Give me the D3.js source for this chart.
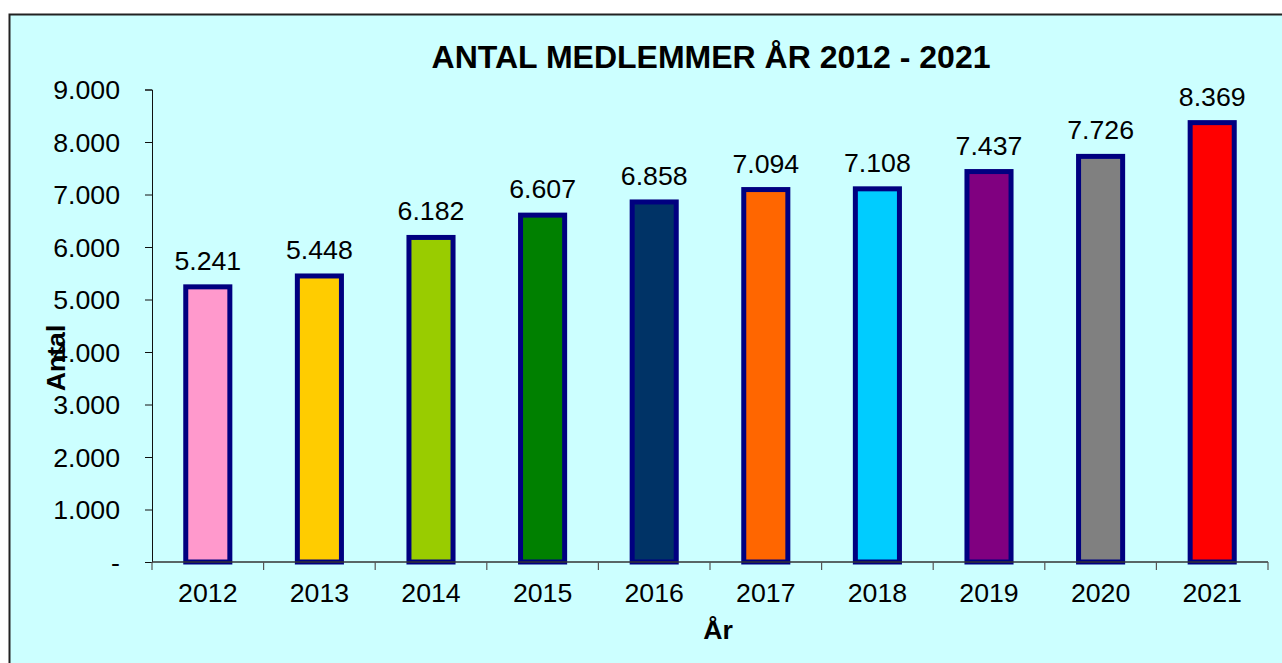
<!DOCTYPE html>
<html lang="da">
<head>
  <meta charset="UTF-8">
  <title>Antal medlemmer år 2012 - 2021</title>
  <script src="https://d3js.org/d3.v7.min.js"></script>
  <style>
    body { margin: 0; background: #fff; }
    svg { display: block; font-family: "Liberation Sans", Arial, sans-serif; }
  </style>
</head>
<body>
  <svg id="chart"></svg>
  <script>
    const years = ["2012", "2013", "2014", "2015", "2016", "2017", "2018", "2019", "2020", "2021"];
    const members = [5241, 5448, 6182, 6607, 6858, 7094, 7108, 7437, 7726, 8369];
    const barColors = ["#FF99CC", "#FFCC00", "#99CC00", "#008000", "#003366",
                       "#FF6600", "#00CCFF", "#800080", "#808080", "#FF0000"];
    const yTicks = [0, 1000, 2000, 3000, 4000, 5000, 6000, 7000, 8000, 9000];

    const width = 1282, height = 663;
    const plotLeft = 152, plotRight = 1268, plotTop = 89.5, plotBottom = 562;
    const fs = 26.7; // label font size

    const svg = d3.select("#chart").attr("width", width).attr("height", height);

    // chart frame
    svg.append("rect")
      .attr("x", 9.5).attr("y", 14.5)
      .attr("width", width).attr("height", height)
      .attr("fill", "#CCFFFF")
      .attr("stroke", "#222").attr("stroke-width", 2);

    const da = d3.formatLocale({ decimal: ",", thousands: ".", grouping: [3], currency: ["", " kr"] });
    const fmt = v => v === 0 ? "-" : da.format(",")(v);

    const x = d3.scaleBand().domain(years).range([plotLeft, plotRight])
      .paddingInner(0.605).paddingOuter(0.3025);
    const y = d3.scaleLinear().domain([0, 9000]).range([plotBottom, plotTop]);

    // y axis
    const yAxis = svg.append("g")
      .attr("transform", `translate(${plotLeft},0)`)
      .call(d3.axisLeft(y).tickValues(yTicks).tickFormat(fmt).tickSizeOuter(0).tickSize(7).tickPadding(25));
    yAxis.select(".domain").attr("stroke", "#111");
    yAxis.selectAll(".tick line").attr("stroke", "#111");
    yAxis.selectAll("text").attr("font-size", fs).attr("fill", "#000").attr("dy", "0.34em");

    // bars
    svg.append("g").selectAll("rect")
      .data(members)
      .join("rect")
      .attr("x", (d, i) => x(years[i]))
      .attr("y", d => y(d))
      .attr("width", x.bandwidth())
      .attr("height", d => y(0) - y(d))
      .attr("fill", (d, i) => barColors[i])
      .attr("stroke", "#000080")
      .attr("stroke-width", 5);

    // value labels
    svg.append("g").selectAll("text")
      .data(members)
      .join("text")
      .attr("x", (d, i) => x(years[i]) + x.bandwidth() / 2)
      .attr("y", d => y(d) - 17)
      .attr("text-anchor", "middle")
      .attr("font-size", fs)
      .text(d => fmt(d));

    // x axis: ticks between categories
    const xg = svg.append("g");
    xg.append("line")
      .attr("x1", plotLeft).attr("x2", plotRight)
      .attr("y1", plotBottom).attr("y2", plotBottom)
      .attr("stroke", "#333").attr("stroke-width", 1.5);
    const step = x.step();
    xg.selectAll("line.tk")
      .data(d3.range(years.length + 1))
      .join("line")
      .attr("class", "tk")
      .attr("x1", i => plotLeft + i * step).attr("x2", i => plotLeft + i * step)
      .attr("y1", plotBottom).attr("y2", plotBottom + 8)
      .attr("stroke", "#555").attr("stroke-width", 1.2);
    xg.selectAll("text")
      .data(years)
      .join("text")
      .attr("x", d => x(d) + x.bandwidth() / 2)
      .attr("y", 602)
      .attr("text-anchor", "middle")
      .attr("font-size", fs)
      .text(d => d);

    // titles
    svg.append("text")
      .attr("x", 711).attr("y", 68)
      .attr("text-anchor", "middle")
      .attr("font-size", 32).attr("font-weight", "bold")
      .text("ANTAL MEDLEMMER ÅR 2012 - 2021");

    svg.append("text")
      .attr("x", 718).attr("y", 639)
      .attr("text-anchor", "middle")
      .attr("font-size", fs).attr("font-weight", "bold")
      .text("År");

    svg.append("text")
      .attr("transform", "translate(65,358) rotate(-90)")
      .attr("text-anchor", "middle")
      .attr("font-size", fs).attr("font-weight", "bold")
      .text("Antal");
  </script>
</body>
</html>
